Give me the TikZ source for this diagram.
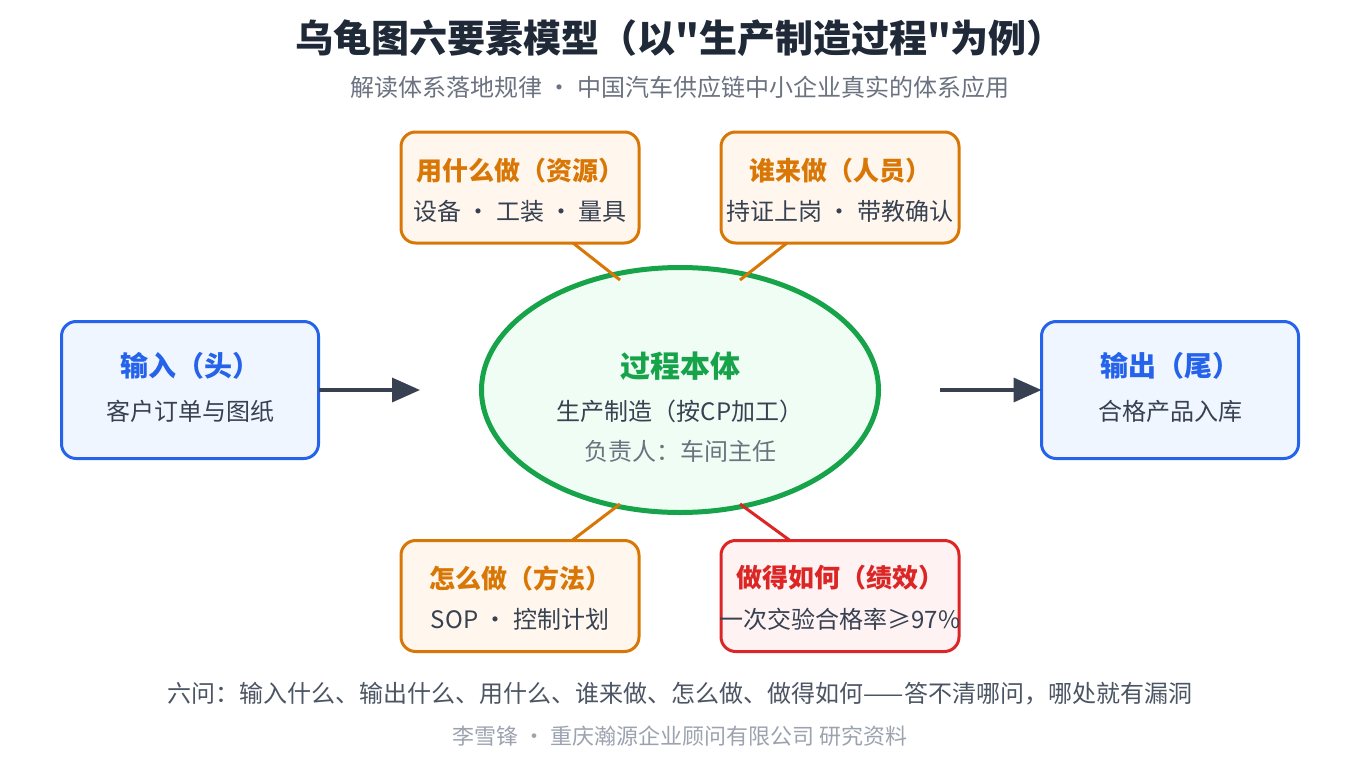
\documentclass[tikz,border=0pt]{standalone}
\usepackage{fontspec}
\setmainfont{Noto Sans CJK SC}[Ligatures=TeXOff]
\usetikzlibrary{shapes.geometric,arrows.meta}

\definecolor{ink}{HTML}{1F2937}
\definecolor{body}{HTML}{374151}
\definecolor{note}{HTML}{4B5563}
\definecolor{muted}{HTML}{6B7280}
\definecolor{faint}{HTML}{9CA3AF}
\definecolor{orng}{HTML}{D97706}
\definecolor{orngbg}{HTML}{FFF7ED}
\definecolor{rd}{HTML}{DC2626}
\definecolor{rdbg}{HTML}{FEF2F2}
\definecolor{blu}{HTML}{2563EB}
\definecolor{blubg}{HTML}{EFF6FF}
\definecolor{grn}{HTML}{16A34A}
\definecolor{grnbg}{HTML}{F0FDF4}

\begin{document}
\begin{tikzpicture}[x=0.75pt,y=-0.75pt,
    box/.style={rectangle,rounded corners=11pt,line width=2.25pt,inner sep=0pt,outer sep=0pt,minimum width=178.5pt,minimum height=83.25pt},
    side/.style={box,minimum width=192.75pt,minimum height=102.75pt},
    core/.style={ellipse,draw=grn,fill=grnbg,line width=3.75pt,inner sep=0pt,outer sep=0pt,minimum width=297.75pt,minimum height=183.75pt},
    txt/.style={inner sep=0pt},
    head/.style={txt,font=\fontsize{19.5pt}{22pt}\selectfont\bfseries},
    line/.style={txt,text=body,font=\fontsize{18pt}{21pt}\selectfont},
    link/.style={line width=2.25pt},
    flow/.style={line width=2.6pt,draw=body,-{Triangle[length=21pt,width=18pt]}}]

    \useasboundingbox[fill=white] (0,0) rectangle (1360,760);

    % title
    \node[txt,text=ink,font=\fontsize{28.5pt}{31pt}\selectfont\bfseries] (title) at (680,38) {乌龟图六要素模型（以"生产制造过程"为例）};
    \node[txt,text=muted,font=\fontsize{18pt}{21pt}\selectfont] (sub) at (680,87) {解读体系落地规律 · 中国汽车供应链中小企业真实的体系应用};

    % process body
    \node[core] (proc) at (680,390) {};
    \node[txt,text=grn,font=\fontsize{22.5pt}{25pt}\selectfont\bfseries] (procT) at (680,366) {过程本体};
    \node[line] (procB) at (680,411) {生产制造（按CP加工）};
    \node[line,text=muted] (procR) at (680,451) {负责人：车间主任};

    % input / output
    \node[side,draw=blu,fill=blubg] (inp) at (190,390) {};
    \node[head,text=blu,font=\fontsize{21pt}{24pt}\selectfont\bfseries] (inpT) at (190,366) {输入（头）};
    \node[line] (inpB) at (190,411) {客户订单与图纸};

    \node[side,draw=blu,fill=blubg] (out) at (1170,390) {};
    \node[head,text=blu,font=\fontsize{21pt}{24pt}\selectfont\bfseries] (outT) at (1170,366) {输出（尾）};
    \node[line] (outB) at (1170,411) {合格产品入库};

    % four supports
    \node[box,draw=orng,fill=orngbg] (res) at (520,187.5) {};
    \node[head,text=orng] (resT) at (520,171) {用什么做（资源）};
    \node[line] (resB) at (520,211) {设备 · 工装 · 量具};

    \node[box,draw=orng,fill=orngbg] (who) at (840,187.5) {};
    \node[head,text=orng] (whoT) at (840,171) {谁来做（人员）};
    \node[line] (whoB) at (840,211) {持证上岗 · 带教确认};

    \node[box,draw=orng,fill=orngbg] (how) at (520,596) {};
    \node[head,text=orng] (howT) at (520,578) {怎么做（方法）};
    \node[line] (howB) at (520,619) {SOP · 控制计划};

    \node[box,draw=rd,fill=rdbg] (perf) at (840,596) {};
    \node[head,text=rd] (perfT) at (840,578) {做得如何（绩效）};
    \node[line] (perfB) at (840,619) {一次交验合格率≥97\%};

    % connector ends on the ellipse
    \coordinate (pResEnd) at (620,280);
    \coordinate (pWhoEnd) at (740,280);
    \coordinate (pHowEnd) at (620,504);
    \coordinate (pPerfEnd) at (740,504);
    \coordinate (inArrow) at (420,390);
    \coordinate (outArrow) at (940,390);

    \draw[link,orng] (res.south) ++(53,0) -- (pResEnd);
    \draw[link,orng] (who.south) ++(-53,0) -- (pWhoEnd);
    \draw[link,orng] (how.north) ++(52,0) -- (pHowEnd);
    \draw[link,rd] (perf.north) ++(-50,0) -- (pPerfEnd);

    \draw[flow] (inp.east) -- (inArrow);
    \draw[flow] (outArrow) -- (out.west);

    % notes
    \node[txt,text=note,font=\fontsize{18pt}{21pt}\selectfont] (ask) at (680,694) {六问：输入什么、输出什么、用什么、谁来做、怎么做、做得如何——答不清哪问，哪处就有漏洞};
    \node[txt,text=faint,font=\fontsize{16.5pt}{19pt}\selectfont] (foot) at (680,736) {李雪锋 · 重庆瀚源企业顾问有限公司 研究资料};
\end{tikzpicture}
\end{document}
